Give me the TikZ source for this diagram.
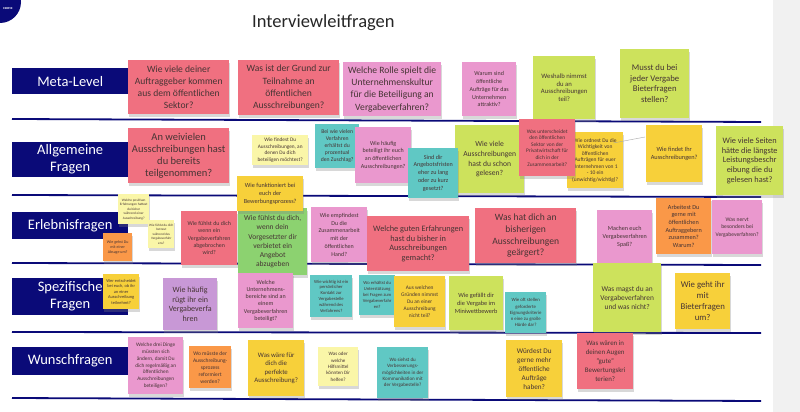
\documentclass[tikz,border=0pt]{standalone}
\usepackage{fontspec}
\setmainfont{Carlito}
\usetikzlibrary{shadows}
\definecolor{cNavy}{RGB}{10,10,120}
\definecolor{cSalmon}{RGB}{240,112,128}
\definecolor{cPink}{RGB}{234,152,206}
\definecolor{cLime}{RGB}{205,226,92}
\definecolor{cYellow}{RGB}{247,208,58}
\definecolor{cPale}{RGB}{250,246,168}
\definecolor{cTeal}{RGB}{96,200,196}
\definecolor{cOrange}{RGB}{250,152,72}
\definecolor{cGreen}{RGB}{140,210,112}
\definecolor{cLilac}{RGB}{200,152,214}
\definecolor{cInk}{RGB}{70,52,52}
\definecolor{cStrip}{RGB}{241,241,241}

\begin{document}
\begin{tikzpicture}[x=1pt, y=-1pt,
  note/.style={anchor=north west, inner sep=1pt, align=center, text=cInk,
    drop shadow={shadow xshift=0.5pt, shadow yshift=-2.5pt, opacity=0.3}},
  sz/.style 2 args={minimum width=#1pt, minimum height=#2pt},
  fs/.style 2 args={font=\fontsize{#1}{#2}\selectfont},
  lane/.style={fill=cNavy, text=white, anchor=north west, inner sep=0pt, align=center,
    minimum width=116pt, font=\fontsize{14.5}{17}\selectfont},
  rule/.style={draw=cNavy, line width=1.8pt}
]
  \useasboundingbox (0,0) rectangle (800,412);
  \fill[white] (0,0) rectangle (800,412);
  \fill[cStrip] (773,0) rectangle (800,412);
  \fill[cNavy] (0,2) circle[radius=21pt];
  \node[text=white, font=\fontsize{3}{3.6}\selectfont\bfseries] (logo) at (8,9) {ESERVE};
  \node[anchor=west, inner sep=0pt, font=\fontsize{18.5}{22}\selectfont, text=black!85] (title) at (252,23) {Interviewleitfragen};

  \foreach \ya/\yb in {119/122, 195/197, 263/265, 332/333, 398/401}
    \draw[rule] (12,\ya) -- (761,\yb);

  \node[lane, minimum height=26pt] (lblMeta) at (12,68) {Meta-Level};
  \node[lane, minimum height=35pt] (lblAllg) at (12,142) {Allgemeine\\Fragen};
  \node[lane, minimum height=27pt] (lblErl) at (12,212) {Erlebnisfragen};
  \node[lane, minimum height=37pt] (lblSpez) at (12,278) {Spezifische\\Fragen};
  \node[lane, minimum height=28pt] (lblWun) at (12,347) {Wunschfragen};

  \node[note, fill=cSalmon, sz={101}{54}, fs={9.6}{12.3}] (meta1) at (128,60) {Wie viele deiner\\Auftraggeber kommen\\aus dem öffentlichen\\Sektor?};
  \node[note, fill=cSalmon, sz={101}{55}, fs={9.6}{12.3}] (meta2) at (238,60) {Was ist der Grund zur\\Teilnahme an\\öffentlichen\\Ausschreibungen?};
  \node[note, fill=cPink, sz={98}{54}, fs={9.6}{12.3}] (meta3) at (343,62) {Welche Rolle spielt die\\Unternehmenskultur\\für die Beteiligung an\\Vergabeverfahren?};
  \node[note, fill=cPink, sz={54}{54}, fs={6}{7.8}] (meta4) at (462,62) {Warum sind\\öffentliche\\Aufträge für das\\Unternehmen\\attraktiv?};
  \node[note, fill=cLime, sz={62}{63}, fs={6.7}{7.8}] (meta5) at (533,56) {Weshalb nimmst\\du an\\Ausschreibungen\\teil?};
  \node[note, fill=cLime, sz={69}{69}, fs={8.7}{10.5}] (meta6) at (620,49) {Musst du bei\\jeder Vergabe\\Bieterfragen\\stellen?};

  \node[note, fill=cSalmon, sz={101}{55}, fs={10.5}{12.2}] (allg1) at (128,128) {An weivielen\\Ausschreibungen hast\\du bereits\\teilgenommen?};
  \node[note, fill=cPale, sz={56}{30}, fs={5.3}{6.7}] (allg2) at (252,135) {Wie findest Du\\Ausschreibungen, an\\denen Du dich\\beteiligen möchtest?};
  \node[note, fill=cTeal, sz={44}{44}, fs={5.7}{7}] (allg3) at (315,124) {Bei wie vielen\\Verfahren\\erhältst du\\prozentual\\den Zuschlag?};
  \node[note, fill=cPink, sz={56}{56}, fs={6}{7.7}] (allg4) at (355,127) {Wie häufig\\beteiligt ihr euch\\an öffentlichen\\Ausschreibungen?};
  \node[note, fill=cLime, sz={69}{68}, fs={7.6}{9.7}] (allg5) at (455,125) {Wie viele\\Ausschreibungen\\hast du schon\\gelesen?};
  \node[note, fill=cTeal, sz={50}{50}, fs={6.1}{7.8}] (allg6) at (408,148) {Sind dir\\Angebotsfristen\\eher zu lang\\oder zu kurz\\gesetzt?};
  \node[note, fill=cYellow, sz={56}{56}, fs={5.5}{6.5}] (allg8) at (567,132) {Wie ordnest Du die\\Wichtigkeit von\\öffentlichen\\Aufträgen für euer\\Unternehmen von 1\\- 10 ein\\(unwichtig/wichtig)?};
  \node[note, fill=cSalmon, sz={56}{57}, fs={5.4}{6.6}] (allg7) at (519,119) {Was unterscheidet\\den öffentlichen\\Sektor von der\\Privatwirtschaft für\\dich in der\\Zusammenarbeit?};
  \node[note, fill=cYellow, sz={56}{57}, fs={6.3}{7.7}] (allg9) at (646,125) {Wie findet Ihr\\Ausschreibungen?};
  \node[note, fill=cLime, sz={67}{69}, fs={8.3}{9.8}] (allg10) at (716,126) {Wie viele Seiten\\hätte die längste\\Leistungsbeschr\\eibung die du\\gelesen hast?};
  \coordinate (hint) at (645,137);
  \draw[gray!70, line width=0.4pt] ([shift={(-10pt,-11pt)}]allg8.north east) -- (hint);

  \node[note, fill=cPale, sz={31}{30}, fs={3.4}{4.5}] (erl1) at (118,194) {Welche positiven\\Erfahrungen hattest\\du bisher\\während einer\\Ausschreibung?};
  \node[note, fill=cOrange, sz={29}{28}, fs={4}{5}] (erl2) at (103,233) {Wie gehst Du\\mit einer\\Absage um?};
  \node[note, fill=cPale, sz={26}{28}, fs={3.3}{4.5}] (erl3) at (148,220) {Wie fühlst du dich\\betreut\\während des\\Vergabeverfahr\\ens?};
  \node[note, fill=cSalmon, sz={56}{54}, fs={5.9}{7.3}] (erl4) at (181,211) {Wie fühlst du dich\\wenn ein\\Vergabeverfahren\\abgebrochen\\wird?};
  \node[note, fill=cGreen, sz={69}{67}, fs={7.5}{9.3}] (erl5) at (238,208) {Wie fühlst du dich,\\wenn dein\\Vorgesetzter dir\\verbietet ein\\Angebot\\abzugeben};
  \node[note, fill=cYellow, sz={66}{35}, fs={6.2}{7.7}] (allg11) at (237,176) {Wie funktioniert bei\\euch der\\Bewerbungsprozess?};
  \node[note, fill=cPink, sz={56}{55}, fs={6}{7.7}] (erl6) at (311,207) {Wie empfindest\\Du die\\Zusammenarbeit\\mit der\\öffentlichen\\Hand?};
  \node[note, fill=cSalmon, sz={102}{55}, fs={8.3}{9.7}] (erl7) at (367,216) {Welche guten Erfahrungen\\hast du bisher in\\Ausschreibungen\\gemacht?};
  \node[note, fill=cSalmon, sz={101}{55}, fs={9.6}{11.7}] (erl8) at (475,208) {Was hat dich an\\bisherigen\\Ausschreibungen\\geärgert?};
  \node[note, fill=cPink, sz={55}{53}, fs={6.1}{8}] (erl9) at (597,210) {Machen euch\\Vergabeverfahren\\Spaß?};
  \node[note, fill=cOrange, sz={55}{56}, fs={6.2}{7.7}] (erl10) at (656,198) {Arbeitest Du\\gerne mit\\öffentlichen\\Auftraggebern\\zusammen?\\Warum?};
  \node[note, fill=cPink, sz={50}{54}, fs={5.6}{7.5}] (erl11) at (712,200) {Was nervt\\besonders bei\\Vergabeverfahren?};

  \node[note, fill=cYellow, sz={36}{35}, fs={4.4}{5.5}] (spez1) at (103,274) {Wer entscheidet\\bei euch, ob ihr\\an einer\\Ausschreibung\\teilnehmt?};
  \node[note, fill=cLilac, sz={54}{52}, fs={8}{9.4}] (spez2) at (163,278) {Wie häufig\\rügt ihr ein\\Vergabeverfa\\hren};
  \node[note, fill=cPink, sz={55}{55}, fs={6}{7.3}] (spez3) at (238,273) {Welche\\Unternehmens-\\bereiche sind an\\einem\\Vergabeverfahren\\beteiligt?};
  \node[note, fill=cTeal, sz={42}{42}, fs={4.6}{5.9}] (spez4) at (310,275) {Wie wichtig ist ein\\persönlicher\\Kontakt zur\\Vergabestelle\\während des\\Verfahrens?};
  \node[note, fill=cTeal, sz={36}{40}, fs={4.6}{6}] (spez5) at (359,275) {Wo erhältst du\\Unterstützung\\bei Fragen zum\\Vergabeverfahr\\en?};
  \node[note, fill=cYellow, sz={51}{51}, fs={5.4}{6.9}] (spez6) at (394,276) {Aus welchen\\Gründen nimmst\\Du an einer\\Ausschreibung\\nicht teil?};
  \node[note, fill=cLime, sz={54}{54}, fs={6.3}{8.3}] (spez7) at (449,276) {Wie gefällt dir\\die Vergabe im\\Miniwettbewerb};
  \node[note, fill=cTeal, sz={41}{41}, fs={4.8}{6.3}] (spez8) at (505,292) {Wie oft stellen\\geforderte\\Eignungskriterie\\n eine zu große\\Hürde dar?};
  \node[note, fill=cLime, sz={68}{69}, fs={7.4}{9}] (spez9) at (593,263) {Was magst du an\\Vergabeverfahren\\und was nicht?};
  \node[note, fill=cYellow, sz={55}{56}, fs={8.8}{11}] (spez10) at (675,273) {Wie geht ihr\\mit\\Bieterfragen\\um?};

  \node[note, fill=cPink, sz={55}{57}, fs={5.3}{6.7}] (wun1) at (128,337) {Welche drei Dinge\\müssten sich\\ändern, damit Du\\dich regelmäßig an\\öffentlichen\\Ausschreibungen\\beteiligen?};
  \node[note, fill=cOrange, sz={42}{42}, fs={5.5}{7}] (wun2) at (189,346) {Wo müsste der\\Ausschreibung-\\sprozess\\reformiert\\werden?};
  \node[note, fill=cYellow, sz={56}{56}, fs={6.8}{8.3}] (wun3) at (248,340) {Was wäre für\\dich die\\perfekte\\Ausschreibung?};
  \node[note, fill=cPale, sz={40}{39}, fs={5}{6.4}] (wun4) at (318,347) {Was oder\\welche\\Hilfsmittel\\könnten Dir\\helfen?};
  \node[note, fill=cTeal, sz={51}{51}, fs={5}{6.3}] (wun5) at (377,347) {Wo siehst du\\Verbesserungs-\\möglichkeiten in der\\Kommunikation mit\\der Vergabestelle?};
  \node[note, fill=cYellow, sz={56}{57}, fs={7.2}{9}] (wun6) at (506,340) {Würdest Du\\gerne mehr\\öffentliche\\Aufträge\\haben?};
  \node[note, fill=cSalmon, sz={56}{56}, fs={6.9}{9}] (wun7) at (577,333) {Was wären in\\deinen Augen\\"gute"\\Bewertungskri\\terien?};
\end{tikzpicture}
\end{document}
